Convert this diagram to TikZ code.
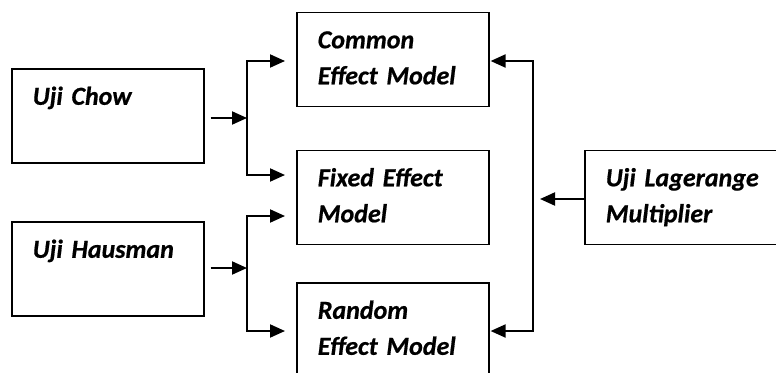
\documentclass[tikz,border=0pt]{standalone}
\usepackage{fontspec}
\setmainfont{Carlito}[BoldItalicFeatures={FakeBold=0.6},WordSpace=0.85]
\usepackage{xcolor}
\definecolor{ColLine}{RGB}{0,0,0}
\usepackage{tikz}
\usetikzlibrary{arrows.meta}
\newcommand{\BoxFont}{\fontsize{26}{36}\selectfont\bfseries\itshape}
\tikzstyle{Box}=[draw=ColLine,line width=1.6pt,anchor=north west,
inner xsep=21pt,inner ysep=0pt,text width=150pt,align=left,
text height=36pt,text depth=58pt,font=\BoxFont]
\tikzstyle{Edge}=[draw=ColLine,line width=2pt]
\tikzstyle{Arrow}=[Edge,-{Triangle[length=15pt,width=13pt]}]
\tikzstyle{Both}=[Edge,{Triangle[length=15pt,width=13pt]}-{Triangle[length=15pt,width=13pt]}]
\begin{document}
\begin{tikzpicture}[x=1pt,y=-1pt]
            \useasboundingbox(0,0)rectangle(776,372);
            \node[Box](chow)at(11,68){Uji Chow};
            \node[Box](hausman)at(11,221){Uji Hausman};
            \node[Box](common)at(296,11.5){Common\\Effect Model};
            \node[Box](fixed)at(296,149.5){Fixed Effect\\Model};
            \node[Box](random)at(296,282){Random\\Effect Model};
            \node[Box,text width=170pt](lm)at(584,149.5)
                {Uji Lagerange\\Multiplier};
            \coordinate(c0)at(247,118);
            \coordinate(c1)at(247,61);
            \coordinate(c2)at(247,175);
            \coordinate(h0)at(247,268);
            \coordinate(h1)at(247,216);
            \coordinate(h2)at(247,331);
            \coordinate(r1)at(533,61);
            \coordinate(r2)at(533,331);
            \coordinate(r0)at(533,199);
            %
            \draw[Arrow]([xshift=6pt]chow.east|-c0)--(c0);
            \draw[Both,shorten <=11pt,shorten >=11pt]
                (c1-|common.west)--(c1)--(c2)--(c2-|fixed.west);
            \draw[Arrow]([xshift=6pt]hausman.east|-h0)--(h0);
            \draw[Both,shorten <=11pt,shorten >=11pt]
                (h1-|fixed.west)--(h1)--(h2)--(h2-|random.west);
            \draw[Both,shorten <=1pt,shorten >=1pt]
                (r1-|common.east)--(r1)--(r2)--(r2-|random.east);
            \draw[Arrow,shorten >=7pt](lm.west|-r0)--(r0);
        \end{tikzpicture}
\end{document}
